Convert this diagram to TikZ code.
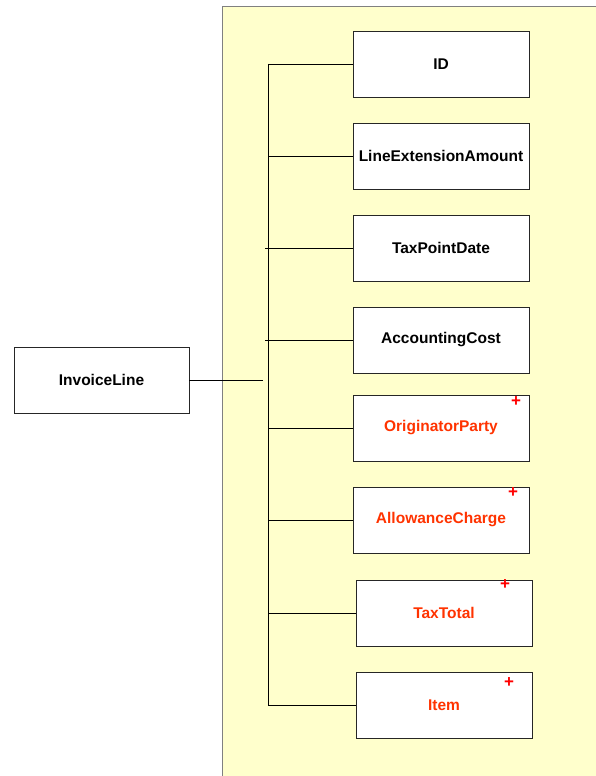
\documentclass[tikz,border=0pt]{standalone}
\usepackage{fontspec}
\setmainfont{Liberation Sans}
\usetikzlibrary{positioning}
\definecolor{panelyellow}{HTML}{FFFFCC}
\definecolor{refred}{HTML}{FF3300}
\tikzset{
  elem/.style={draw=black!85,line width=0.9pt,outer sep=0pt,fill=white,minimum width=176pt,minimum height=66pt,inner sep=2pt,font=\bfseries\fontsize{15.5}{17}\selectfont},
  refelem/.style={elem,text=refred},
  plus/.style={text=red,inner sep=0pt,font=\bfseries\fontsize{17}{17}\selectfont},
  link/.style={draw=black,line width=0.7pt}
}

\begin{document}
\begin{tikzpicture}[x=1pt,y=-1pt]
  \useasboundingbox (0,0) rectangle (596,776);
  \draw[fill=panelyellow,draw=gray,line width=1pt] (222,7) rectangle (600,780);

  \node (root) [elem,minimum width=175pt] at (101.5,380) {InvoiceLine};
  \coordinate (spine) at (268,380);
  \coordinate (hub) at (263,380);

  \node (id) [elem] at (441,64) {ID};
  \node (lea) [elem,below=26pt of id] {LineExtensionAmount};
  \node (tpd) [elem,below=26pt of lea] {TaxPointDate};
  \node (ac) [elem,below=26pt of tpd] {AccountingCost};
  \node (op) [refelem,below=22pt of ac] {OriginatorParty};
  \node (alc) [refelem,below=26pt of op] {AllowanceCharge};
  \node (tt) [refelem,below=27pt of alc,xshift=3pt] {TaxTotal};
  \node (item) [refelem,below=26pt of tt] {Item};

  \node (opplus) [plus] at ([shift={(-13pt,-7pt)}]op.north east) {+};
  \node (alcplus) [plus] at ([shift={(-16pt,-6pt)}]alc.north east) {+};
  \node (ttplus) [plus] at ([shift={(-27pt,-5pt)}]tt.north east) {+};
  \node (itemplus) [plus] at ([shift={(-23pt,-11pt)}]item.north east) {+};

  \draw[link] (root) -- (hub);
  \draw[link] (id.west -| spine) -- (item.west -| spine);
  \draw[link] (id.west -| spine) -- (id.west);
  \draw[link] (lea.west -| spine) -- (lea.west);
  \draw[link] ([xshift=-3pt]tpd.west -| spine) -- (tpd.west);
  \draw[link] ([xshift=-3pt]ac.west -| spine) -- (ac.west);
  \draw[link] (op.west -| spine) -- (op.west);
  \draw[link] (alc.west -| spine) -- (alc.west);
  \draw[link] (tt.west -| spine) -- (tt.west);
  \draw[link] (item.west -| spine) -- (item.west);
\end{tikzpicture}
\end{document}
